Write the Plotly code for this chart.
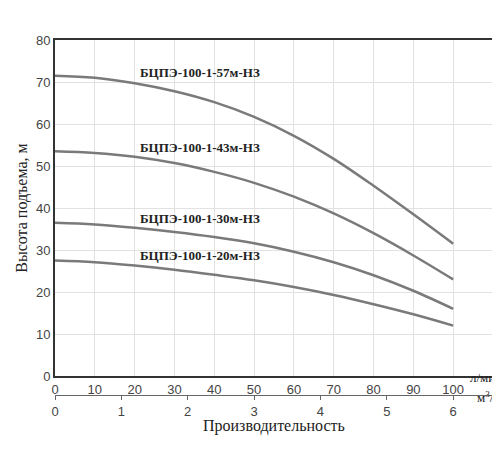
import plotly.graph_objects as go

flow_lpm = [0, 10, 20, 30, 40, 50, 60, 70, 80, 90, 100]
head_57 = [71.5, 71, 69.7, 67.8, 65.2, 61.7, 57.2, 51.7, 45.3, 38.5, 31.5]
head_43 = [53.5, 53.1, 52.2, 50.7, 48.6, 46, 42.7, 38.7, 34, 28.7, 23]
head_30 = [36.5, 36.1, 35.3, 34.3, 33.1, 31.6, 29.6, 27.1, 24, 20.3, 16]
head_20 = [27.5, 27.1, 26.3, 25.3, 24.1, 22.8, 21.2, 19.3, 17.1, 14.7, 12]
names = ["БЦПЭ-100-1-57м-НЗ", "БЦПЭ-100-1-43м-НЗ", "БЦПЭ-100-1-30м-НЗ", "БЦПЭ-100-1-20м-НЗ"]
label_y = [72.2, 54.5, 37.6, 28.6]
x_ticks = [0, 10, 20, 30, 40, 50, 60, 70, 80, 90, 100]
m3h_ticks = [0, 1, 2, 3, 4, 5, 6]

fig = go.Figure()
for heads in [head_57, head_43, head_30, head_20]:
    fig.add_trace(go.Scatter(x=flow_lpm, y=heads, mode="lines",
                             line=dict(color="#7a7a7a", width=2.5, shape="spline", smoothing=1.0),
                             showlegend=False, hoverinfo="skip"))
for name, ly in zip(names, label_y):
    fig.add_annotation(x=36.5, y=ly, text=f"<b>{name}</b>", showarrow=False,
                       font=dict(family="Liberation Serif", size=13, color="#222"))

# dummy trace for second axis
fig.add_trace(go.Scatter(x=[0], y=[0], xaxis="x2", yaxis="y", mode="markers", opacity=0,
                         showlegend=False, hoverinfo="skip"))

fig.update_layout(
    width=500, height=450, margin=dict(l=47, r=15, t=32, b=40),
    plot_bgcolor="white", paper_bgcolor="white",
    font=dict(family="Liberation Sans", size=13, color="#444"),
    xaxis=dict(range=[0, 110], tickvals=x_ticks, showgrid=True, gridcolor="#e2e2e2",
               showline=True, linecolor="#333", linewidth=2, mirror=True, zeroline=False,
               ticks="", anchor="y", automargin=False),
    yaxis=dict(domain=[0.111, 1], range=[0, 80], dtick=10, showgrid=True, gridcolor="#e2e2e2",
               showline=True, linecolor="#333", linewidth=2, mirror=True, zeroline=False,
               automargin=False,
               title=dict(text="Высота подъема, м", font=dict(family="Liberation Serif", size=16, color="#222"),
                          standoff=4)),
    xaxis2=dict(range=[0, 6.6], tickvals=m3h_ticks, anchor="free", position=0.061, overlaying="x",
                showline=True, linecolor="#666", linewidth=1, ticks="outside", ticklen=4, tickcolor="#666",
                showgrid=False, zeroline=False, side="bottom", automargin=False),
)
fig.add_annotation(xref="paper", yref="paper", x=0.5, y=-0.05, text="Производительность", showarrow=False,
                   font=dict(family="Liberation Serif", size=16, color="#222"))
fig.add_annotation(xref="paper", yref="paper", x=1.025, y=0.083, xanchor="right", text="л/мин", showarrow=False,
                   font=dict(family="Liberation Serif", size=13, color="#222"))
fig.add_annotation(xref="paper", yref="paper", x=1.02, y=0.028, xanchor="right", text="м<sup>3</sup>/ч",
                   showarrow=False, font=dict(family="Liberation Serif", size=13, color="#222"))
fig.write_html("out.html")
